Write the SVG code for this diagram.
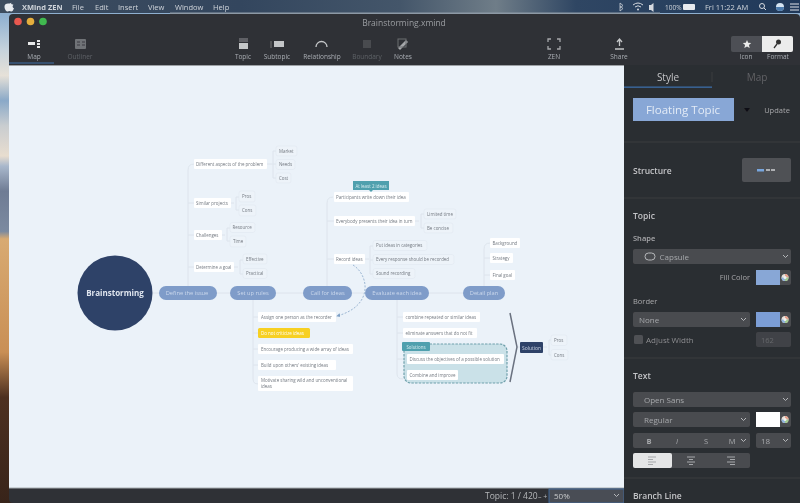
<svg xmlns="http://www.w3.org/2000/svg" width="800" height="503" viewBox="0 0 800 503">
<defs>
<linearGradient id="desk" x1="0" y1="0" x2="0" y2="1">
<stop offset="0.03" stop-color="#8fb0d0"/><stop offset=".1" stop-color="#c6d3dc"/><stop offset=".15" stop-color="#e6e1d8"/><stop offset=".2" stop-color="#8aa9c8"/><stop offset=".25" stop-color="#c9cdd0"/><stop offset=".31" stop-color="#e8ddcf"/><stop offset=".33" stop-color="#a9b8cc"/><stop offset=".38" stop-color="#6f7c94"/><stop offset=".46" stop-color="#7b8aa0"/><stop offset=".475" stop-color="#d8aa72"/><stop offset=".7" stop-color="#c98f55"/><stop offset=".79" stop-color="#4d3020"/><stop offset="1" stop-color="#38241a"/>
</linearGradient>
<linearGradient id="menu" x1="0" y1="0" x2="1" y2="0">
<stop offset="0" stop-color="#3d4c5e"/><stop offset=".3" stop-color="#33465e"/><stop offset=".5" stop-color="#44566a"/><stop offset=".62" stop-color="#6f7d88"/><stop offset=".72" stop-color="#2f4663"/><stop offset="1" stop-color="#20395a"/>
</linearGradient>
<filter id="soft" x="-5%" y="-5%" width="110%" height="110%"><feGaussianBlur stdDeviation="0.45"/></filter>
<marker id="arr" markerWidth="6" markerHeight="6" refX="4" refY="3" orient="auto"><path d="M0 .5L5 3L0 5.500z" fill="#7d9fc4"/></marker>
<g id="wheel"><circle r="3.500" fill="#e9e2da"/><path d="M0 0L0-3.500A3.500 3.500 0 0 1 3.500 0z" fill="#e6a08c"/><path d="M0 0L3.500 0A3.500 3.500 0 0 1 0 3.500z" fill="#9fc98f"/><path d="M0 0L0 3.500A3.500 3.500 0 0 1-3.500 0z" fill="#8fb2dc"/><circle r="1.500" fill="#f2f2f2"/></g>
</defs>
<style>
text{font-family:"Open Sans","Liberation Sans",sans-serif}
.pill{fill:#7f9cc9}
.pt{fill:#cbd8ec;font-size:5.700px;text-anchor:middle}
.sub{fill:#fff}
.leaf{fill:#edf3f9;stroke:#e3eaf2;stroke-width:.7}
.t{fill:#747a82;font-size:4.450px}
.ln{fill:none;stroke:#dde4ec;stroke-width:1}
.bar{fill:#a9adb3;font-size:6.500px;text-anchor:middle}
.bar2{fill:#5d6166;font-size:6.500px;text-anchor:middle}
.h{fill:#c3c5c8;font-size:8.500px;font-weight:600}
.h2{fill:#a9abae;font-size:7.500px}
.sel{fill:#4a4c50}
.opt{fill:#a5a7aa;font-size:8px}
.chev{fill:none;stroke:#b5b7ba;stroke-width:1}
.div{stroke:#3c3e43;stroke-width:1}
.menu{fill:#cfd4da;font-size:7.500px}
</style>
<rect width="800" height="503" fill="url(#desk)"/>
<rect width="800" height="13" fill="url(#menu)"/>
<rect x="170" y="12.500" width="490" height="1.500" fill="#8d99a5"/>
<rect x="9" y="14" width="791" height="489" rx="4" fill="#2f3136"/>
<g filter="url(#soft)">
<g id="menubar">
<path d="M9 3.500c1 0 1.500-.8 2.500-.8l-.5 1.200c1.500 0 2.500 .8 2.500 .8-1.500 1-1 3 .5 3.500-.7 2-1.700 3.300-2.700 3.300-.8 0-1.200-.5-1.900-.5s-1.200 .5-1.900 .5c-1.300 0-3-2.500-3-4.800 0-2.500 1.800-3.500 4.500-3.200z" fill="#e8ebef"/>
<text x="22" y="9.500" class="menu" font-weight="700">XMind ZEN</text>
<text x="72" y="9.500" class="menu">File</text><text x="95" y="9.500" class="menu">Edit</text><text x="118" y="9.500" class="menu">Insert</text><text x="148" y="9.500" class="menu">View</text><text x="175" y="9.500" class="menu">Window</text><text x="213" y="9.500" class="menu">Help</text>
<path d="M620 3l3 2.500-3 2.500M620 3v8l3-2.500-3-2.500" fill="none" stroke="#c8ced5" stroke-width=".8"/>
<path d="M633 5q5-4 10 0M635 7q3-2.500 6 0" fill="none" stroke="#d5d9df" stroke-width="1"/><circle cx="638" cy="9.500" r="1" fill="#d5d9df"/>
<path d="M649 5h2l2.500-2v9l-2.500-2h-2z" fill="#d5d9df"/>
<text x="665" y="9.500" class="menu" style="font-size:6.500px">100%</text>
<rect x="683" y="4" width="12" height="6" rx="1" fill="#e8ebef"/>
<text x="705" y="9.500" class="menu">Fri 11:22 AM</text>
<circle cx="762" cy="6" r="2.500" fill="none" stroke="#d5d9df"/><path d="M764 8l2 2" stroke="#d5d9df"/>
<circle cx="780" cy="7" r="4" fill="#d5e4f2"/><path d="M776 7a4 4 0 0 0 8 0z" fill="#4d7cae"/>
<path d="M790 4h9M790 7h9M790 10h9" stroke="#e0e3e8" stroke-width="1"/>
</g>
<g id="window-controls">
<circle cx="18" cy="21.500" r="3.800" fill="#e8584f"/><circle cx="30.500" cy="21.500" r="3.800" fill="#e5ae3c"/><circle cx="43" cy="21.500" r="3.800" fill="#3fb950"/>
<text x="404" y="25.500" text-anchor="middle" fill="#9a9da1" style="font-size:8.500px">Brainstorming.xmind</text>
</g>
<g id="toolbar">
<rect x="28" y="42" width="7" height="3" fill="#e8e9ea"/><path d="M37 41h3M37 44h3M37 47h3" stroke="#e8e9ea" stroke-width="2"/>
<rect x="75" y="39" width="11" height="10" rx="1" fill="#707377"/><path d="M77 42h3M77 45h3M82 42h3M82 45h3" stroke="#3a3c40"/>
<rect x="239" y="38" width="9" height="4" fill="#5f6165"/><rect x="239" y="43" width="9" height="6" fill="#c4c6c8"/>
<path d="M271 41v7" stroke="#777"/><rect x="274" y="41" width="10" height="6" fill="#c4c6c8"/>
<path d="M316 47a5.500 5.500 0 0 1 11 0" fill="none" stroke="#c4c6c8" stroke-width="1.300"/>
<rect x="363" y="40" width="8" height="8" fill="#4a4c50"/>
<path d="M398 48l8-8 2 2-8 8z" fill="#a5a7aa"/><rect x="398" y="39" width="8" height="8" fill="none" stroke="#6c6e72"/>
<path d="M548 42v-3h3M557 39h3v3M560 46v3h-3M551 49h-3v-3" fill="none" stroke="#a5a7aa" stroke-width="1.300"/>
<path d="M619.500 39v7M617 42l2.500-3 2.500 3M615 49h9" fill="none" stroke="#c4c6c8" stroke-width="1.300"/>
<text x="34" y="59" class="bar">Map</text>
<rect x="9" y="62.500" width="45" height="1" fill="#3c6ea8"/>
<text x="80" y="59" class="bar2">Outliner</text>
<text x="243" y="59" class="bar">Topic</text><text x="277" y="59" class="bar">Subtopic</text><text x="322" y="59" class="bar">Relationship</text><text x="367" y="59" class="bar2">Boundary</text><text x="403" y="59" class="bar">Notes</text><text x="554" y="59" class="bar">ZEN</text><text x="619" y="59" class="bar">Share</text><text x="746" y="59" class="bar">Icon</text><text x="778" y="59" class="bar">Format</text>
<rect x="731" y="36" width="62" height="16" rx="2" fill="#4e5054"/>
<path d="M762 36h29a2 2 0 0 1 2 2v12a2 2 0 0 1-2 2h-29z" fill="#ececec"/>
<path d="M747 40l1.200 2.800 3 .2-2.300 2 .8 3-2.700-1.600-2.700 1.600.8-3-2.300-2 3-.2z" fill="#ececec"/>
<path d="M774 48l3-4" stroke="#333" stroke-width="1.300"/><circle cx="778.500" cy="42" r="2.500" fill="#333"/>
</g>
</g>
<rect x="9" y="65" width="615" height="423" fill="#ebf2f9"/>
<rect x="9" y="65" width="615" height="1" fill="#9da1a5"/>
<rect x="9" y="487.500" width="615" height="1" fill="#a8adb2"/>
<g filter="url(#soft)">
<g id="connectors">
<path class="ln" d="M188 286V170q0-6 6-6M188 203h6M188 235h6M188 267h6"/>
<path class="ln" d="M217 293h13M276 293h27M352 293h13M429 293h34M153 293h6"/>
<path class="ln" d="M267 164h3M273 151v27M270 164h6M273 151h3M273 178h3"/>
<path class="ln" d="M231 203h3M236 197v13M236 197h3M236 210h3"/>
<path class="ln" d="M222 235h3M227 228v13M227 228h3M227 241h3"/>
<path class="ln" d="M234 267h4M240 260v14M240 260h3M240 274h3"/>
<path class="ln" d="M327 286V203q0-6 6-6M327 221h7M327 259h7"/>
<path class="ln" d="M415 221h4M421 214v14M421 214h3M421 228h3"/>
<path class="ln" d="M365 259h4M370 246v28M370 246h3M370 260h3M370 274h3"/>
<path class="ln" d="M484 286V249q0-6 6-6M484 258h6M484 275h6"/>
<path class="ln" d="M253 300V379q0 5 5 5M253 317h5M253 333h5M253 349h5M253 365h5"/>
<path class="ln" d="M397 300V374q0 5 6 5M397 317h6M397 333h6M397 359h6"/>
<path class="ln" d="M543 347h4M549 340v15M549 340h2M549 355h2"/>
<path d="M517 347h3" class="ln"/>
<path d="M510 313L517 347L510 382" fill="none" stroke="#6b7280" stroke-width="1.500"/>
<path d="M353 265C369 275 374 306 337 316" fill="none" stroke="#86a6c8" stroke-width=".8" stroke-dasharray="2 1.500" marker-end="url(#arr)"/>
</g>
<g id="boundary">
<rect x="404" y="344" width="103" height="39" rx="7" fill="#cae1e8" stroke="#6fa0ab" stroke-width="1.200" stroke-dasharray="2.500 1.200"/>
<rect x="402" y="342" width="28" height="9" rx="1" fill="#4fa0ae"/>
<text x="416" y="348.500" text-anchor="middle" fill="#d7ecf0" style="font-size:4.450px">Solutions</text>
</g>
<g id="node-brainstorming"><circle cx="115" cy="293" r="37.500" fill="#2f4268"/><text x="115" y="296" text-anchor="middle" fill="#dfe5ee" font-weight="700" style="font-size:8px">Brainstorming</text></g>
<g id="node-define"><rect class="pill" x="159" y="286" width="58" height="14" rx="7"/><text class="pt" x="187" y="295">Define the issue</text></g>
<g id="node-rules"><rect class="pill" x="230" y="286" width="46" height="14" rx="7"/><text class="pt" x="253" y="295">Set up rules</text></g>
<g id="node-call"><rect class="pill" x="303" y="286" width="49" height="14" rx="7"/><text class="pt" x="327.500" y="295">Call for ideas</text></g>
<g id="node-evaluate"><rect class="pill" x="365" y="286" width="64" height="14" rx="7"/><text class="pt" x="397" y="295">Evaluate each idea</text></g>
<g id="node-detail"><rect class="pill" x="463" y="286" width="42" height="14" rx="7"/><text class="pt" x="484" y="295">Detail plan</text></g>
<g id="node-d1"><rect class="sub" x="194" y="159" width="73" height="10" rx="1"/><text class="t" x="196" y="165.500">Different aspects of the problem</text></g>
<g id="node-d1a"><rect class="leaf" x="276" y="146" width="21" height="10" rx="2"/><text class="t" x="279" y="152.500">Market</text></g>
<g id="node-d1b"><rect class="leaf" x="276" y="159.500" width="19" height="10" rx="2"/><text class="t" x="279" y="166">Needs</text></g>
<g id="node-d1c"><rect class="leaf" x="276" y="173" width="15" height="10" rx="2"/><text class="t" x="279" y="179.500">Cost</text></g>
<g id="node-d2"><rect class="sub" x="194" y="198" width="37" height="10" rx="1"/><text class="t" x="196" y="204.500">Similar projects</text></g>
<g id="node-d2a"><rect class="leaf" x="239" y="191" width="16" height="11" rx="2"/><text class="t" x="242" y="198">Pros</text></g>
<g id="node-d2b"><rect class="leaf" x="239" y="205" width="17" height="11" rx="2"/><text class="t" x="242" y="212">Cons</text></g>
<g id="node-d3"><rect class="sub" x="194" y="230" width="28" height="10" rx="1"/><text class="t" x="196" y="236.500">Challenges</text></g>
<g id="node-d3a"><rect class="leaf" x="230" y="222.500" width="25" height="10" rx="2"/><text class="t" x="232.500" y="229">Resource</text></g>
<g id="node-d3b"><rect class="leaf" x="230" y="236" width="16" height="11" rx="2"/><text class="t" x="233" y="243">Time</text></g>
<g id="node-d4"><rect class="sub" x="194" y="262" width="40" height="10" rx="1"/><text class="t" x="196" y="268.500">Determine a goal</text></g>
<g id="node-d4a"><rect class="leaf" x="243" y="254" width="24" height="10" rx="2"/><text class="t" x="246" y="260.500">Effective</text></g>
<g id="node-d4b"><rect class="leaf" x="243" y="268.500" width="24" height="10" rx="2"/><text class="t" x="246" y="275">Practical</text></g>
<g id="node-c1"><rect class="sub" x="334" y="192" width="75" height="10" rx="1"/><text class="t" x="336" y="198.500">Participants write down their idea</text></g>
<g id="label-next"><path d="M353 181h36v9h-16l-2 2-2-2h-16z" fill="#4fa0ae"/><text x="371" y="187.500" text-anchor="middle" fill="#d7ecf0" style="font-size:4.450px">At least 2 ideas</text></g>
<g id="node-c2"><rect class="sub" x="334" y="216" width="81" height="10" rx="1"/><text class="t" x="336" y="222.500">Everybody presents their idea in turn</text></g>
<g id="node-c2a"><rect class="leaf" x="424" y="209" width="32" height="10" rx="2"/><text class="t" x="427" y="215.500">Limited time</text></g>
<g id="node-c2b"><rect class="leaf" x="424" y="223" width="29" height="10" rx="2"/><text class="t" x="427" y="229.500">Be concise</text></g>
<g id="node-c3"><rect class="sub" x="334" y="254" width="31" height="10" rx="1"/><text class="t" x="336" y="260.500">Record ideas</text></g>
<g id="node-c3a"><rect class="leaf" x="373" y="240.500" width="54" height="10" rx="2"/><text class="t" x="376" y="247">Put ideas in categories</text></g>
<g id="node-c3b"><rect class="leaf" x="373" y="254.500" width="81" height="10" rx="2"/><text class="t" x="376" y="261">Every response should be recorded</text></g>
<g id="node-c3c"><rect class="leaf" x="373" y="268.500" width="42" height="10" rx="2"/><text class="t" x="376" y="275">Sound recording</text></g>
<g id="node-p1"><rect class="sub" x="490" y="238" width="30" height="10" rx="1"/><text class="t" x="492.500" y="244.500">Background</text></g>
<g id="node-p2"><rect class="sub" x="490" y="253" width="23" height="10" rx="1"/><text class="t" x="492.500" y="259.500">Strategy</text></g>
<g id="node-p3"><rect class="sub" x="490" y="270" width="25" height="10" rx="1"/><text class="t" x="492.500" y="276.500">Final goal</text></g>
<g id="node-r1"><rect class="sub" x="258" y="312" width="78" height="10" rx="1"/><text class="t" x="261" y="318.500">Assign one person as the recorder</text></g>
<g id="node-r2"><rect x="258" y="328" width="52" height="10" rx="1.500" fill="#f7d021"/><text x="261" y="334.500" fill="#fff" style="font-size:4.450px">Do not criticize ideas</text></g>
<g id="node-r3"><rect class="sub" x="258" y="344" width="95" height="10" rx="1"/><text class="t" x="261" y="350.500">Encourage producing a wide array of ideas</text></g>
<g id="node-r4"><rect class="sub" x="258" y="360" width="78" height="10" rx="1"/><text class="t" x="261" y="366.500">Build upon others' existing ideas</text></g>
<g id="node-r5"><rect class="sub" x="258" y="376" width="95" height="15" rx="1"/><text class="t" x="261" y="382">Motivate sharing wild and unconventional</text><text class="t" x="261" y="388">ideas</text></g>
<g id="node-e1"><rect class="sub" x="403" y="312" width="77" height="10" rx="1"/><text class="t" x="405.500" y="318.500">combine repeated or similar ideas</text></g>
<g id="node-e2"><rect class="sub" x="403" y="328" width="74" height="10" rx="1"/><text class="t" x="405.500" y="334.500">eliminate answers that do not fit</text></g>
<g id="node-e3"><rect class="sub" x="407" y="354" width="97" height="10" rx="1"/><text class="t" x="409.500" y="360.500">Discuss the objectives of a possible solution</text></g>
<g id="node-e4"><rect class="sub" x="407" y="370" width="51" height="10" rx="1"/><text class="t" x="409.500" y="376.500">Combine and improve</text></g>
<g id="node-solution"><rect x="520" y="342" width="23" height="11" rx="1" fill="#2f4268"/><text x="531.500" y="349.500" text-anchor="middle" fill="#c8d2e2" style="font-size:5px">Solution</text></g>
<g id="node-s1"><rect class="leaf" x="551" y="335" width="16" height="10.500" rx="2"/><text class="t" x="554" y="342">Pros</text></g>
<g id="node-s2"><rect class="leaf" x="551" y="349.500" width="17" height="10.500" rx="2"/><text class="t" x="554" y="356.500">Cons</text></g>
</g>
<g filter="url(#soft)">
<g id="statusbar">
<text x="485" y="499" fill="#b5b7ba" style="font-size:8.500px">Topic: 1 / 420</text>
<text x="538" y="499" fill="#b5b7ba" style="font-size:7px">– +</text>
<rect x="549" y="489" width="75" height="14" fill="#4a4e55" stroke="#3c6ea8" stroke-width=".8"/>
<text x="554" y="499" fill="#c8cacc" style="font-size:8px">50%</text>
<path class="chev" d="M614 494l2.500 2.500 2.500-2.500"/>
</g>
<g id="panel">
<rect x="624" y="65" width="176" height="438" fill="#2b2d31"/>
<rect x="624" y="86.500" width="88" height="1.300" fill="#3c6ea8"/>
<text x="668" y="81" text-anchor="middle" fill="#c3c5c8" style="font-size:10px">Style</text>
<path d="M712 72v10" stroke="#3c3e43"/>
<text x="757" y="81" text-anchor="middle" fill="#606266" style="font-size:10px">Map</text>
<rect x="633" y="98" width="101" height="23" fill="#88a7d6"/>
<text x="683" y="114" text-anchor="middle" fill="#e3ebf6" style="font-size:11.500px">Floating Topic</text>
<path d="M744 108h6l-3 4z" fill="#101113"/>
<text x="777" y="113" text-anchor="middle" fill="#a5a7aa" style="font-size:7.500px">Update</text>
<path class="div" d="M624 142h176M624 198h176M624 358h176M624 478h176"/>
<text class="h" x="633" y="174">Structure</text>
<rect x="742" y="158" width="49" height="24" rx="2" fill="#4f5155"/>
<rect x="757" y="169" width="7" height="2.500" fill="#78a6de"/><rect x="766" y="169" width="4" height="2" fill="#aeb0b3"/><rect x="771" y="169" width="4" height="2" fill="#aeb0b3"/>
<text class="h" x="633" y="219">Topic</text>
<text class="h2" x="633" y="241" style="font-weight:600">Shape</text>
<rect class="sel" x="633" y="249" width="158" height="15" rx="2"/>
<rect x="645" y="253" width="10" height="7" rx="3.500" fill="none" stroke="#b5b7ba"/>
<text class="opt" x="659.500" y="260">Capsule</text>
<path class="chev" d="M783 255l2.500 2.500 2.500-2.500"/>
<text x="750" y="280" text-anchor="end" fill="#a5a7aa" style="font-size:7.500px">Fill Color</text>
<rect x="756" y="270" width="35" height="15" rx="2" fill="#4a4c50"/><rect x="756" y="270" width="24" height="15" fill="#88a7d6"/>
<use href="#wheel" x="785" y="277.500"/>
<text class="h2" x="633" y="304">Border</text>
<rect class="sel" x="633" y="312" width="117" height="15" rx="2"/>
<text class="opt" x="639" y="323">None</text>
<path class="chev" d="M741 318l2.500 2.500 2.500-2.500"/>
<rect x="756" y="312" width="35" height="15" rx="2" fill="#4a4c50"/><rect x="756" y="312" width="24" height="15" fill="#7c9ed6"/>
<use href="#wheel" x="785" y="319.500"/>
<rect x="634" y="335" width="9" height="9" rx="1.500" fill="#4f5155"/>
<text x="646" y="343" fill="#8c8e91" style="font-size:8px">Adjust Width</text>
<rect x="756" y="332" width="35" height="15" rx="2" fill="#414347"/>
<text x="761" y="343" fill="#66686c" style="font-size:7.500px">162</text>
<text class="h" x="633" y="379">Text</text>
<rect class="sel" x="633" y="392" width="158" height="15" rx="2"/>
<text class="opt" x="644" y="403">Open Sans</text>
<path class="chev" d="M783 398l2.500 2.500 2.500-2.500"/>
<rect class="sel" x="633" y="412" width="117" height="15" rx="2"/>
<text class="opt" x="644" y="423">Regular</text>
<path class="chev" d="M741 418l2.500 2.500 2.500-2.500"/>
<rect x="756" y="412" width="35" height="15" rx="2" fill="#4a4c50"/><rect x="756" y="412" width="24" height="15" fill="#fff"/>
<use href="#wheel" x="785" y="419.500"/>
<rect class="sel" x="633" y="433" width="117" height="15" rx="2"/>
<g fill="#a5a7aa" style="font-size:7.500px" text-anchor="middle"><text x="649" y="444" font-weight="700">B</text><text x="677" y="444" font-style="italic">I</text><text x="706" y="444">S</text><text x="732" y="444">M</text></g>
<path class="chev" d="M741 439l2.500 2.500 2.500-2.500"/>
<rect class="sel" x="756" y="433" width="35" height="15" rx="2"/>
<text class="opt" x="761" y="444">18</text>
<path class="chev" d="M783 439l2.500 2.500 2.500-2.500"/>
<rect class="sel" x="633" y="453" width="117" height="15" rx="2"/>
<rect x="633" y="453" width="39" height="15" rx="2" fill="#e4e5e6"/>
<path d="M648 457h8M648 459.500h5M648 462h8M648 464.500h5" stroke="#a5a7aa"/>
<path d="M687 457h8M689 459.500h4M687 462h8M689 464.500h4" stroke="#a5a7aa"/>
<path d="M727 457h8M730 459.500h5M727 462h8M730 464.500h5" stroke="#a5a7aa"/>
<text class="h" x="633" y="499">Branch Line</text>
</g>
</g>
</svg>
